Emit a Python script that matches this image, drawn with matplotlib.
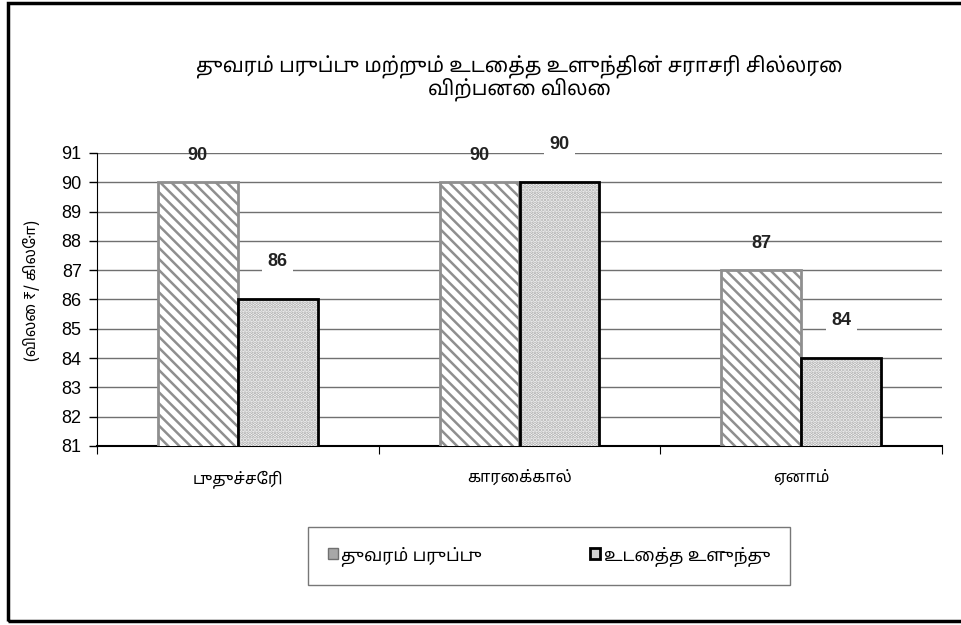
import numpy as np
import matplotlib.pyplot as plt
from matplotlib.patches import Patch, Rectangle

plt.rcParams['font.family'] = ['Noto Sans Tamil', 'Lohit Tamil', 'FreeSans', 'Liberation Sans', 'DejaVu Sans']
plt.rcParams['hatch.linewidth'] = 1.8

districts = ['புதுச்சேரி', 'காரைக்கால்', 'ஏனாம்']
series_names = ['துவரம் பருப்பு', 'உடைத்த உளுந்து']
toor_dal = [90, 90, 87]
urad_dal = [86, 90, 84]
title = 'துவரம் பருப்பு மற்றும் உடைத்த உளுந்தின் சராசரி சில்லரை\nவிற்பனை விலை'
ylabel = '(விலை ₹/ கிலோ)'

num_font = ['Liberation Sans', 'DejaVu Sans']

fig = plt.figure(figsize=(9.61, 6.25), dpi=100)
ax = fig.add_axes([97/961, 1-446/625, 845/961, 293/625])

x = np.arange(len(districts))
w = 0.284

# first series: diagonal hatch, gray edge
ax.bar(x - w/2, toor_dal, w, color='white', edgecolor='#8f8f8f',
       hatch='\\\\\\', linewidth=2, zorder=3)
# second series: dotted fill, then black outline on top
ax.bar(x + w/2, urad_dal, w, color='white', edgecolor='#a8a8a8', hatch='.....',
       linewidth=0, zorder=3)
ax.bar(x + w/2, urad_dal, w, color='none', edgecolor='black', linewidth=2, zorder=4)

for xi, v in zip(x - w/2, toor_dal):
    ax.annotate(str(v), (xi, v), xytext=(0, 19), textcoords='offset points',
                ha='center', va='center', fontsize=13, fontweight='bold', color='#222222',
                family=num_font, zorder=5)
for xi, v in zip(x + w/2, urad_dal):
    ax.annotate(str(v), (xi, v), xytext=(0, 27), textcoords='offset points',
                ha='center', va='center', fontsize=13, fontweight='bold', color='#222222',
                family=num_font, bbox=dict(facecolor='white', edgecolor='none', pad=4), zorder=5)

ax.set_ylim(81, 91)
ax.set_xlim(-0.5, 2.5)
ax.set_yticks(range(81, 92))
ax.set_yticklabels([str(v) for v in range(81, 92)], family=num_font, fontsize=13)
ax.tick_params(axis='y', length=6, direction='out', width=1, pad=5)
ax.yaxis.grid(True, color='#707070', linewidth=1)
ax.set_axisbelow(True)

ax.set_xticks([-0.5, 0.5, 1.5, 2.5])
ax.set_xticklabels([])
ax.tick_params(axis='x', which='major', length=6, direction='out')
ax.set_xticks(x, minor=True)
ax.set_xticklabels(districts, minor=True, fontsize=11.5)
ax.tick_params(axis='x', which='minor', length=0, pad=17)

for s in ['top', 'right']:
    ax.spines[s].set_visible(False)
ax.spines['bottom'].set_linewidth(1.5)

ax.set_title(title, fontsize=14.5, pad=42, linespacing=1.0)
fig.text(32/961, 1-290/625, ylabel, rotation=90, ha='center', va='center', fontsize=11)

handles = [Patch(facecolor='#a8a8a8', edgecolor='#707070'),
           Patch(facecolor='#d0d0d0', edgecolor='black', linewidth=2)]
leg = fig.legend(handles, series_names, loc='center', bbox_to_anchor=(549/961, 1-556/625),
                 ncol=2, fontsize=12.5, frameon=True, fancybox=False, borderpad=1.1,
                 handlelength=0.6, handleheight=0.6, handletextpad=0.2, columnspacing=6.2,
                 borderaxespad=0)
leg.get_frame().set_edgecolor('#555555')
leg.get_frame().set_linewidth(1)
leg.get_frame().set_boxstyle('square', pad=0)

fig.patches.append(Rectangle((8/961, 1-621/625), 1.1, 618/625, transform=fig.transFigure,
                             fill=False, edgecolor='black', linewidth=2.5))

plt.savefig('out.png', dpi=100)
